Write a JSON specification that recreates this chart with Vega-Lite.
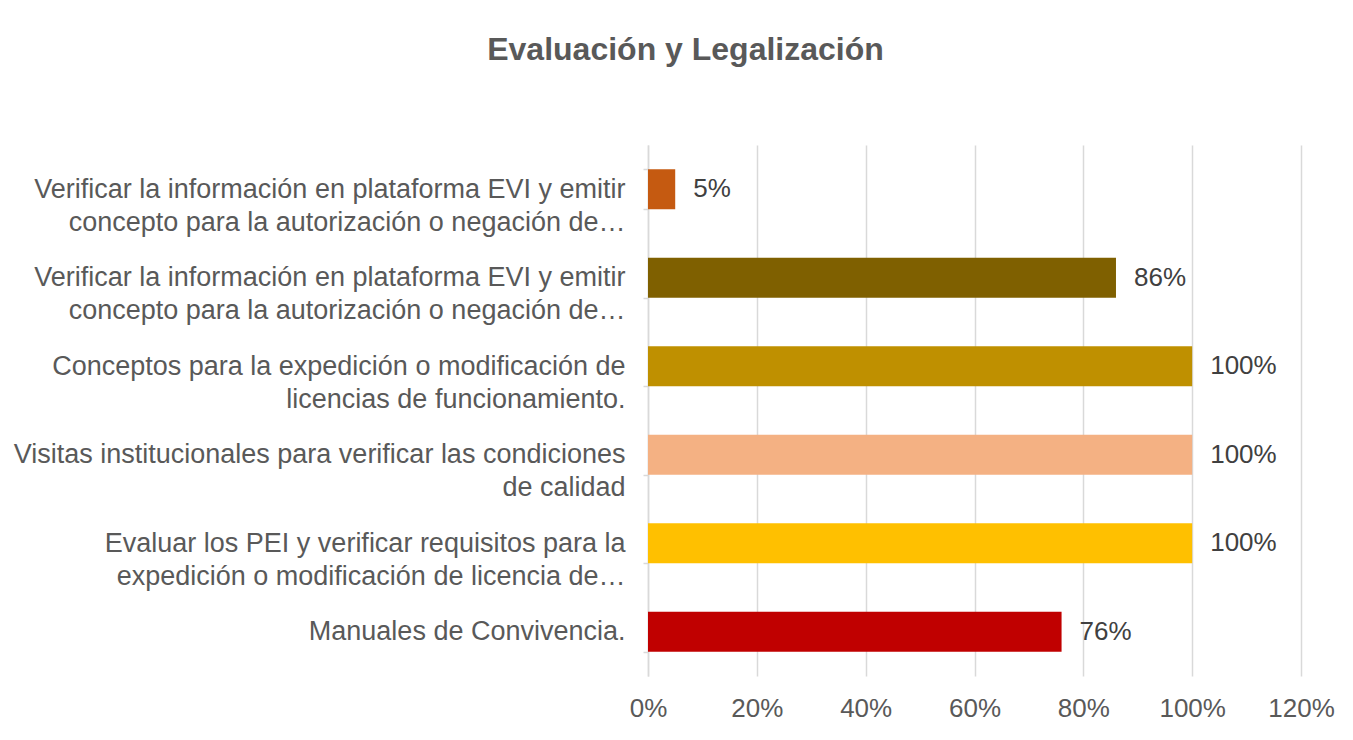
{
  "$schema": "https://vega.github.io/schema/vega-lite/v6.json",
  "width": 653,
  "height": 531,
  "autosize": {"type": "none"},
  "padding": {"left": 648, "top": 145, "right": 52, "bottom": 64},
  "background": "white",
  "title": {
    "text": "Evaluación y Legalización",
    "anchor": "middle",
    "frame": "group",
    "dx": -289,
    "offset": 64,
    "fontSize": 32,
    "fontWeight": "bold",
    "color": "#595959",
    "font": "Liberation Sans"
  },
  "config": {
    "view": {"stroke": null},
    "font": "Liberation Sans"
  },
  "data": {
    "values": [
      {"tarea": "Verificar la información en  plataforma EVI y emitir|concepto para la autorización o negación de…", "valor": 0.05, "orden": 1},
      {"tarea": "Verificar la información en  plataforma EVI  y emitir|concepto para la autorización o negación de…", "valor": 0.86, "orden": 2},
      {"tarea": "Conceptos para la expedición o modificación de|licencias de funcionamiento.", "valor": 1.0, "orden": 3},
      {"tarea": "Visitas institucionales para verificar las condiciones |de calidad", "valor": 1.0, "orden": 4},
      {"tarea": "Evaluar los PEI y verificar requisitos para la|expedición o modificación de licencia de…", "valor": 1.0, "orden": 5},
      {"tarea": "Manuales de Convivencia.", "valor": 0.76, "orden": 6}
    ]
  },
  "encoding": {
    "y": {
      "field": "tarea",
      "type": "nominal",
      "sort": {"field": "orden"},
      "scale": {"paddingInner": 0.55, "paddingOuter": 0.275},
      "axis": {
        "title": null,
        "labelExpr": "datum.value ? split(datum.value, '|') : ''",
        "labelFontSize": 27,
        "labelLineHeight": 33,
        "labelColor": "#595959",
        "labelLimit": 0,
        "labelPadding": 18,
        "labelAlign": "right",
        "domainColor": "#D9D9D9",
        "domainWidth": 1.5,
        "ticks": true,
        "tickBand": "extent",
        "tickSize": 5,
        "tickColor": "#D9D9D9",
        "tickWidth": 1.5,
        "grid": false
      }
    },
    "x": {
      "field": "valor",
      "type": "quantitative",
      "scale": {"domain": [0, 1.2], "nice": false},
      "axis": {
        "title": null,
        "format": ".0%",
        "values": [0, 0.2, 0.4, 0.6, 0.8, 1.0, 1.2],
        "labelFontSize": 26,
        "labelColor": "#595959",
        "labelPadding": 19,
        "labelFlush": false,
        "labelOverlap": false,
        "domain": false,
        "ticks": false,
        "grid": true,
        "gridColor": "#D9D9D9",
        "gridWidth": 1.5
      }
    }
  },
  "layer": [
    {
      "mark": {"type": "bar"},
      "encoding": {
        "color": {
          "field": "tarea",
          "type": "nominal",
          "sort": {"field": "orden"},
          "scale": {"range": ["#C55A11", "#7F6000", "#BF9000", "#F4B183", "#FFC000", "#C00000"]},
          "legend": null
        }
      }
    },
    {
      "mark": {"type": "text", "align": "left", "baseline": "middle", "dx": 18, "fontSize": 26, "color": "#404040"},
      "encoding": {
        "text": {"field": "valor", "type": "quantitative", "format": ".0%"}
      }
    }
  ]
}
